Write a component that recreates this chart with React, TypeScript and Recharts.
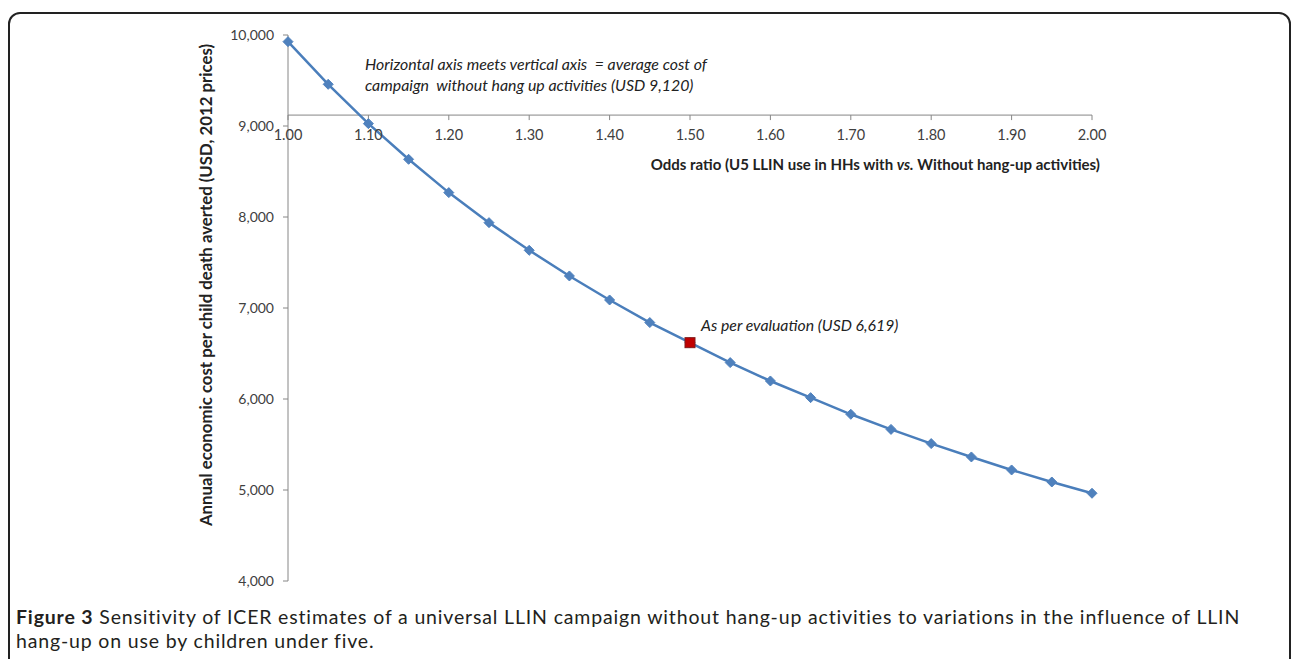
import { LineChart, Line, XAxis, YAxis, ReferenceLine, ReferenceDot } from "recharts";

// odds ratio (x) and ICER in USD (y)
const oddsRatios = [
  1.0, 1.05, 1.1, 1.15, 1.2, 1.25, 1.3, 1.35, 1.4, 1.45, 1.5, 1.55, 1.6, 1.65, 1.7, 1.75, 1.8, 1.85, 1.9,
  1.95, 2.0,
];
const icerUsd = [
  9927, 9458, 9026, 8634, 8268, 7938, 7634, 7352, 7088, 6840, 6619, 6400, 6198, 6015, 5832, 5666, 5510,
  5363, 5220, 5088, 4964,
];
const xTicks = [1.0, 1.1, 1.2, 1.3, 1.4, 1.5, 1.6, 1.7, 1.8, 1.9, 2.0];
const yTicks = [4000, 5000, 6000, 7000, 8000, 9000, 10000];
const baselineCost = 9120;
const evaluationOdds = 1.5;
const evaluationCost = 6619;

const data = oddsRatios.map((x, i) => ({ x, y: icerUsd[i] }));

const FONT = "Lato, 'Open Sans', sans-serif";
const AXIS = "#868686";
const BLUE = "#4A7EBB";

const Diamond = (p: any) => {
  const { cx, cy, index } = p;
  if (cx == null || cy == null) return <g key={index} />;
  const r = 5;
  return (
    <path
      key={index}
      d={`M${cx},${cy - r}L${cx + r},${cy}L${cx},${cy + r}L${cx - r},${cy}Z`}
      fill="#4F81BD"
      stroke="#4F81BD"
    />
  );
};

export default function App() {
  return (
    <div
      style={{
        position: "absolute",
        left: 0,
        top: 0,
        width: 1292,
        height: 659,
        overflow: "hidden",
        background: "#fff",
      }}
    >
      <div
        style={{
          position: "absolute",
          left: 8,
          top: 12,
          width: 1279,
          height: 700,
          border: "2px solid #222",
          borderTopLeftRadius: 12,
          borderTopRightRadius: 12,
        }}
      />
      <div style={{ position: "absolute", left: 0, top: 0 }}>
        <LineChart width={1292} height={600} data={data} margin={{ top: 35, right: 200, bottom: 19, left: 228 }}>
          <XAxis dataKey="x" type="number" domain={[1, 2]} hide />
          <YAxis
            type="number"
            domain={[4000, 10000]}
            ticks={yTicks}
            width={60}
            axisLine={{ stroke: AXIS }}
            tickLine={{ stroke: AXIS }}
            tickSize={5}
            tickMargin={9}
            tick={{ fill: "#404040", fontSize: 14, fontFamily: FONT }}
            tickFormatter={(v: number) => v.toLocaleString("en-US")}
            label={{
              content: (props: any) => {
                const vb = props.viewBox;
                const x = vb.x - 23;
                const y = vb.y + vb.height / 2 - 23;
                return (
                  <text
                    x={x}
                    y={y}
                    transform={`rotate(-90, ${x}, ${y})`}
                    textAnchor="middle"
                    dominantBaseline="central"
                    fontFamily={FONT}
                    fontWeight="bold"
                    fontSize={16.8}
                    fill="#222"
                  >
                    Annual economic cost per child death averted (USD, 2012 prices)
                  </text>
                );
              },
            }}
          />
          <ReferenceLine y={baselineCost} stroke={AXIS} strokeWidth={1} />
          {xTicks.map((t) => (
            <ReferenceDot
              key={t}
              x={t}
              y={baselineCost}
              r={0}
              shape={(p: any) => (
                <g>
                  <line x1={p.cx} y1={p.cy} x2={p.cx} y2={p.cy + 5} stroke={AXIS} />
                  <text
                    x={p.cx}
                    y={p.cy + 25}
                    textAnchor="middle"
                    fontFamily={FONT}
                    fontSize={14.5}
                    fill="#404040"
                  >
                    {t.toFixed(2)}
                  </text>
                </g>
              )}
            />
          ))}
          <ReferenceDot
            x={2}
            y={baselineCost}
            r={0}
            shape={(p: any) => (
              <text
                x={p.cx + 8}
                y={p.cy + 55}
                textAnchor="end"
                fontFamily={FONT}
                fontWeight="bold"
                fontSize={15}
                fill="#222"
              >
                Odds ratio (U5 LLIN use in HHs with <tspan fontStyle="italic">vs.</tspan> Without hang-up activities)
              </text>
            )}
          />
          <ReferenceDot
            x={1}
            y={baselineCost}
            r={0}
            shape={(p: any) => (
              <text fontFamily={FONT} fontStyle="italic" fontSize={15.9} fill="#222" style={{ whiteSpace: "pre" }}>
                <tspan x={p.cx + 77} y={p.cy - 45}>
                  {"Horizontal axis meets vertical axis  = average cost of"}
                </tspan>
                <tspan x={p.cx + 77} y={p.cy - 24}>
                  {"campaign  without hang up activities (USD 9,120)"}
                </tspan>
              </text>
            )}
          />
          <Line
            dataKey="y"
            stroke={BLUE}
            strokeWidth={2.5}
            dot={Diamond}
            activeDot={false}
            isAnimationActive={false}
          />
          <ReferenceDot
            x={evaluationOdds}
            y={evaluationCost}
            r={5}
            shape={(p: any) => (
              <g>
                <rect x={p.cx - 5} y={p.cy - 5} width={10} height={10} fill="#C00000" stroke="#7F1A1A" />
                <text
                  x={p.cx + 11}
                  y={p.cy - 12}
                  fontFamily={FONT}
                  fontStyle="italic"
                  fontSize={15.8}
                  fill="#222"
                >
                  As per evaluation (USD 6,619)
                </text>
              </g>
            )}
          />
        </LineChart>
      </div>
      <div
        style={{
          position: "absolute",
          left: 16,
          top: 605,
          width: 1270,
          whiteSpace: "nowrap",
          fontFamily: FONT,
          fontSize: 19.5,
          letterSpacing: 0.84,
          lineHeight: "24px",
          color: "#231F20",
        }}
      >
        <b>Figure 3</b> Sensitivity of ICER estimates of a universal LLIN campaign without hang-up activities to
        variations in the influence of LLIN
        <br />
        hang-up on use by children under five.
      </div>
    </div>
  );
}
